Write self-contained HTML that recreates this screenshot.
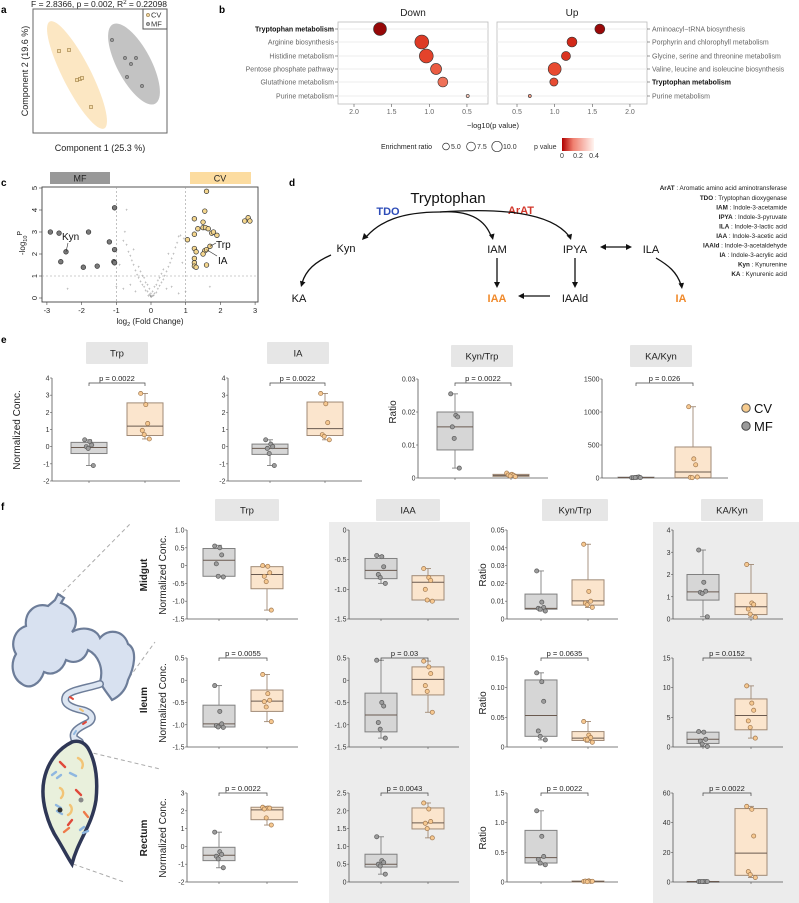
<!DOCTYPE html>
<html><head><meta charset="utf-8"><style>
html,body{margin:0;padding:0;background:#fff}
svg{display:block;font-family:"Liberation Sans",sans-serif}
</style></head><body>
<svg id="fig" width="799" height="903" viewBox="0 0 799 903" xmlns="http://www.w3.org/2000/svg">
<defs>
<linearGradient id="pgrad" x1="0" x2="1" y1="0" y2="0"><stop offset="0" stop-color="#b00000"/><stop offset="0.35" stop-color="#f08070"/><stop offset="1" stop-color="#fff4f0"/></linearGradient>
</defs>
<g font-weight="bold" font-size="10" fill="#000">
<text x="1" y="13">a</text>
<text x="219" y="13">b</text>
<text x="1" y="186">c</text>
<text x="289" y="186">d</text>
<text x="1" y="343">e</text>
<text x="1" y="510">f</text>
</g>

<g>
<text x="99" y="7" font-size="8.5" text-anchor="middle" fill="#222">F = 2.8366, p = 0.002, R<tspan font-size="6" dy="-3">2</tspan><tspan dy="3"> = 0.22098</tspan></text>
<rect x="33" y="9" width="134" height="124" fill="#fff" stroke="#666" stroke-width="1"/>
<ellipse cx="77" cy="75" rx="60" ry="14" transform="rotate(63 77 75)" fill="#fbe3b8" opacity="0.85"/>
<ellipse cx="134" cy="64" rx="45" ry="17" transform="rotate(62 134 64)" fill="#b9b9b9" opacity="0.85"/>
<g id="pcoaPts"></g>
<rect x="143" y="9" width="24" height="20" fill="#fff" stroke="#555"/>
<circle cx="148" cy="15" r="1.6" fill="#f0d49c" stroke="#8a7040" stroke-width="0.6"/>
<text x="151" y="17.5" font-size="7.5" fill="#333">CV</text>
<circle cx="148" cy="24" r="1.6" fill="#aaa" stroke="#555" stroke-width="0.6"/>
<text x="151" y="26.5" font-size="7.5" fill="#333">MF</text>
<text x="100" y="151" font-size="9" text-anchor="middle" fill="#222">Component 1 (25.3 %)</text>
<text transform="translate(28,71) rotate(-90)" font-size="9" text-anchor="middle" fill="#222">Component 2 (19.6 %)</text>
</g>

<g id="panelB">
<text x="413" y="16" font-size="10" text-anchor="middle" fill="#222">Down</text>
<text x="572" y="16" font-size="10" text-anchor="middle" fill="#222">Up</text>
<rect x="338" y="22" width="150" height="82" fill="#fff" stroke="#bbb" stroke-width="0.8"/>
<rect x="497" y="22" width="150" height="82" fill="#fff" stroke="#bbb" stroke-width="0.8"/>
<text x="493" y="128" font-size="7.5" text-anchor="middle" fill="#222">−log10(p value)</text>
<text x="381" y="149" font-size="7" fill="#222">Enrichment ratio</text>
<g font-size="7" fill="#333">
<circle cx="446" cy="146.5" r="3.4" fill="none" stroke="#333" stroke-width="0.7"/><text x="451" y="149">5.0</text>
<circle cx="471" cy="146.5" r="4.4" fill="none" stroke="#333" stroke-width="0.7"/><text x="477" y="149">7.5</text>
<circle cx="497" cy="146.5" r="5.2" fill="none" stroke="#333" stroke-width="0.7"/><text x="503" y="149">10.0</text>
<text x="534" y="149">p value</text>
<rect x="562" y="138" width="32" height="13" fill="url(#pgrad)"/>
<text x="562" y="158" text-anchor="middle">0</text><text x="578" y="158" text-anchor="middle">0.2</text><text x="594" y="158" text-anchor="middle">0.4</text>
</g>
</g>

<g id="panelC">
<rect x="50" y="172" width="60" height="12" fill="#999"/>
<text x="80" y="181.5" font-size="9" text-anchor="middle" fill="#222">MF</text>
<rect x="190" y="172" width="61" height="12" fill="#fcdca0"/>
<text x="220" y="181.5" font-size="9" text-anchor="middle" fill="#222">CV</text>
<rect x="42" y="187" width="216" height="115" fill="#fff" stroke="#444" stroke-width="0.9"/>
<text x="150" y="324" font-size="8" text-anchor="middle" fill="#222">log<tspan font-size="5.5" dy="2">2</tspan><tspan dy="-2"> (Fold Change)</tspan></text>
<text transform="translate(25,243) rotate(-90)" font-size="8" text-anchor="middle" fill="#222">-log<tspan font-size="5.5" dy="2">10</tspan><tspan font-size="7" dy="-5">P</tspan></text>
</g>

<g fill="#111">
<text x="448" y="203" font-size="15" text-anchor="middle">Tryptophan</text>
<text x="388" y="215" font-size="11" font-weight="bold" fill="#2d4cb8" text-anchor="middle">TDO</text>
<text x="521" y="214" font-size="11" font-weight="bold" fill="#d2362a" text-anchor="middle">ArAT</text>
<text x="346" y="252" font-size="11" text-anchor="middle">Kyn</text>
<text x="299" y="302" font-size="11" text-anchor="middle">KA</text>
<text x="497" y="253" font-size="11" text-anchor="middle">IAM</text>
<text x="575" y="253" font-size="11" text-anchor="middle">IPYA</text>
<text x="651" y="253" font-size="11" text-anchor="middle">ILA</text>
<text x="575" y="302" font-size="11" text-anchor="middle">IAAld</text>
<text x="497" y="302" font-size="11" font-weight="bold" fill="#f08a2c" text-anchor="middle">IAA</text>
<text x="681" y="302" font-size="11" font-weight="bold" fill="#f08a2c" text-anchor="middle">IA</text>
<g stroke="#111" stroke-width="1.3" fill="none">
<path d="M440,212 C400,212 380,222 367,236"/>
<path d="M440,212 C470,210 485,220 491,236"/>
<path d="M440,212 C500,208 550,212 569,236"/>
<path d="M497,258 L497,283"/>
<path d="M575,258 L575,283"/>
<path d="M550,296 L522,296"/>
<path d="M604,247 L628,247"/>
<path d="M656,258 C668,265 677,272 681,285"/>
<path d="M331,255 C315,262 306,270 302,283"/>
</g>
<g fill="#111">
<path d="M362,240 l2,-7 l4.5,4.5z"/><path d="M493,240 l-4,-5 l5.5,-1.5z"/><path d="M571,240 l-4.5,-4.5 l5.5,-1.8z"/>
<path d="M497,288 l-3,-6 l6,0z"/><path d="M575,288 l-3,-6 l6,0z"/><path d="M518,296 l6,-3 l0,6z"/>
<path d="M600,247 l6,-3 l0,6z"/><path d="M632,247 l-6,-3 l0,6z"/>
<path d="M682,289 l-3.5,-5.5 l5.5,-0.8z"/><path d="M301,287 l-1,-6.2 l5.5,1.5z"/>
</g>
<g font-size="6.3" text-anchor="end" fill="#222">
<text x="787" y="190"><tspan font-weight="bold">ArAT</tspan> :  Aromatic amino acid aminotransferase</text>
<text x="787" y="200"><tspan font-weight="bold">TDO</tspan> :  Tryptophan dioxygenase</text>
<text x="787" y="209.5"><tspan font-weight="bold">IAM</tspan> :  Indole-3-acetamide</text>
<text x="787" y="219"><tspan font-weight="bold">IPYA</tspan> :  Indole-3-pyruvate</text>
<text x="787" y="228.5"><tspan font-weight="bold">ILA</tspan> :  Indole-3-lactic acid</text>
<text x="787" y="238"><tspan font-weight="bold">IAA</tspan> :  Indole-3-acetic acid</text>
<text x="787" y="247.5"><tspan font-weight="bold">IAAld</tspan> :  Indole-3-acetaldehyde</text>
<text x="787" y="257"><tspan font-weight="bold">IA</tspan> :  Indole-3-acrylic acid</text>
<text x="787" y="266.5"><tspan font-weight="bold">Kyn</tspan> :  Kynurenine</text>
<text x="787" y="276"><tspan font-weight="bold">KA</tspan> :  Kynurenic acid</text>
</g>
</g>

<rect x="329" y="522" width="141" height="381" fill="#ececec"/>
<rect x="653" y="522" width="146" height="381" fill="#ececec"/>

<g>
<g stroke="#aaa" stroke-width="1" stroke-dasharray="4,3" fill="none">
<path d="M58,597 L130,524"/><path d="M113,700 L155,642"/><path d="M80,750 L160,769"/><path d="M73,864 L124,882"/>
</g>
<path d="M55,600 l3,-6 l6,4 l-3,5 C75,608 80,622 72,632 C82,626 96,628 100,638 C108,628 124,630 128,644 C138,650 134,668 128,680 C126,690 120,696 112,700 C108,694 104,690 100,682 C104,668 98,655 88,650 C84,662 74,664 66,660 C62,672 52,676 44,672 C40,684 30,690 22,684 C12,678 10,664 16,654 C10,644 14,630 26,626 C24,612 36,602 48,606 z" fill="#d8e1f0" stroke="#6d7d99" stroke-width="2.2"/>
<path d="M100,684 C88,688 70,690 66,696 C62,704 72,708 82,710 C92,712 96,720 86,724 C78,728 72,732 74,738 L80,742" fill="none" stroke="#6d7d99" stroke-width="8" stroke-linecap="round"/>
<path d="M100,684 C88,688 70,690 66,696 C62,704 72,708 82,710 C92,712 96,720 86,724 C78,728 72,732 74,738 L80,742" fill="none" stroke="#dde6f2" stroke-width="5" stroke-linecap="round"/>
<path d="M72,742 C60,748 48,760 44,780 C40,800 48,825 58,840 C64,850 68,858 72,864 C78,840 92,826 96,800 C98,780 96,762 88,748 C84,742 78,740 72,742 z" fill="#e9f0dc" stroke="#2f3756" stroke-width="3.5"/>
<g stroke-width="2.4" stroke-linecap="round" fill="none">
<path d="M60,762 l5,5" stroke="#e0493a"/><path d="M78,758 c4,2 6,6 4,10" stroke="#f2c476"/><path d="M52,775 l4,-3 m1,6 l4,-3" stroke="#8fb7e0"/><path d="M70,773 l6,3" stroke="#8fb7e0"/><path d="M60,788 c4,2 4,7 1,10" stroke="#f2c476"/><path d="M76,790 l5,5" stroke="#e0493a"/><path d="M56,805 l5,3 m-4,3 l5,3" stroke="#8fb7e0"/><path d="M70,805 c3,3 2,8 -2,10" stroke="#f2c476"/><path d="M84,812 l4,5" stroke="#ee7a4a"/><path d="M72,820 l-4,5" stroke="#e0493a"/><path d="M64,832 l5,-4" stroke="#ee7a4a"/><path d="M80,830 l4,-3 m-1,6 l5,-2" stroke="#8fb7e0"/>
</g>
<circle cx="60" cy="810" r="2.5" fill="#333"/><circle cx="81" cy="800" r="2.5" fill="#888"/>
<g stroke-width="2" stroke-linecap="round"><path d="M70,697 l3,2" stroke="#e0493a"/><path d="M80,709 l3,2" stroke="#f2c476"/><path d="M86,722 l-3,2" stroke="#e0493a"/><path d="M76,731 l-2,3" stroke="#8fb7e0"/></g>
</g>

<g>
<circle cx="746" cy="408" r="4.2" fill="#f6cb8e" stroke="#555" stroke-width="1"/>
<text x="754" y="413" font-size="13" fill="#111">CV</text>
<circle cx="746" cy="426" r="4.2" fill="#9a9a9a" stroke="#444" stroke-width="1"/>
<text x="754" y="431" font-size="13" fill="#111">MF</text>
</g>
<text transform="translate(20,430) rotate(-90)" font-size="10" text-anchor="middle" fill="#222">Normalized Conc.</text>
<text transform="translate(396,412) rotate(-90)" font-size="10" text-anchor="middle" fill="#222">Ratio</text>
<g font-size="10" text-anchor="middle" fill="#222">
<text transform="translate(147,575) rotate(-90)" font-weight="bold">Midgut</text>
<text transform="translate(147,700) rotate(-90)" font-weight="bold">Ileum</text>
<text transform="translate(147,838) rotate(-90)" font-weight="bold">Rectum</text>
<text transform="translate(166,575) rotate(-90)">Normalized Conc.</text>
<text transform="translate(166,703) rotate(-90)">Normalized Conc.</text>
<text transform="translate(166,838) rotate(-90)">Normalized Conc.</text>
<text transform="translate(486,575) rotate(-90)">Ratio</text>
<text transform="translate(486,703) rotate(-90)">Ratio</text>
<text transform="translate(486,838) rotate(-90)">Ratio</text>
</g>
<g id="boxes"></g>
</svg>
<script>
// ---------- panel a data ----------
const pcoaCV_x = [59,69,77,80,82,91];
const pcoaCV_y = [51,50,80,79,78,107];
const pcoaMF_x = [112,125,136,131,127,142];
const pcoaMF_y = [40,58,58,64,77,86];

// ---------- panel b data ----------
const pathwaysDown = ["Tryptophan metabolism","Arginine biosynthesis","Histidine metabolism","Pentose phosphate pathway","Glutathione metabolism","Purine metabolism"];
const logPDown = [1.655,1.10,1.04,0.91,0.82,0.49];
const ratioDown = [10.5,12,12,7.6,6.2,0.6];
const pathwaysUp = ["Aminoacyl−tRNA biosynthesis","Porphyrin and chlorophyll metabolism","Glycine, serine and threonine metabolism","Valine, leucine and isoleucine biosynthesis","Tryptophan metabolism","Purine metabolism"];
const logPUp = [1.60,1.23,1.15,1.00,0.99,0.67];
const ratioUp = [6.2,6.2,5.2,10.5,4.2,0.6];
const enrichTicks = [0.5,1.0,1.5,2.0];

// ---------- panel c data ----------
const volMFx = [-2.9,-2.65,-2.45,-2.6,-1.95,-1.8,-1.55,-1.2,-1.05,-1.05,-1.07,-1.05];
const volMFy = [3.0,2.95,2.1,1.65,1.4,3.0,1.45,2.55,4.1,2.2,1.65,1.6];
const volCVx = [1.6,1.55,1.25,1.5,1.35,1.5,1.57,1.65,1.75,1.8,1.9,1.05,1.25,1.25,1.3,1.55,1.6,1.5,1.7,1.25,1.25,1.25,1.3,1.6,2.7,2.8,2.85];
const volCVy = [4.85,3.95,3.6,3.45,3.15,3.2,3.2,3.15,2.95,3.0,2.85,2.65,2.9,2.25,2.1,2.15,2.2,2.0,2.35,1.8,1.6,1.45,1.4,1.5,3.5,3.65,3.5];
const volNSx = [0,0.05,-0.05,0.1,-0.1,0.15,-0.15,0.2,-0.2,0.25,-0.25,0.3,-0.3,0.35,-0.35,0.4,-0.4,0.45,-0.45,0.5,-0.5,0.55,-0.55,0.6,-0.6,0.65,-0.65,0.7,0.75,0.8,0.85,-0.7,-0.75,-0.8,-0.7,0.95,0.1,-0.1,0.2,-0.2,0.3,-0.3,0.05,-0.05,0,0.15,-0.15,0.25,-0.25,0.35,-0.35,0.45,-0.45,0.6,-0.6,0.8,-0.8,1.0,-1.0,-0.9,0.9,-0.5,0.5,-2.4,1.7,0,0.02,-0.02,0.08,-0.08];
const volNSy = [0.05,0.1,0.15,0.2,0.3,0.25,0.35,0.4,0.5,0.55,0.6,0.7,0.75,0.85,0.9,1.0,1.05,1.2,1.25,1.4,1.5,1.6,1.7,1.8,1.9,2.0,2.1,2.3,2.5,2.8,2.85,2.4,3.0,2.6,4.0,2.7,0.5,0.6,0.8,0.9,1.1,1.2,0.3,0.4,0.2,0.6,0.7,0.9,1.0,1.3,1.4,0.4,0.3,0.5,0.6,0.2,0.4,0.3,0.5,1.5,1.6,2.2,2.0,0.4,0.5,0.1,0.05,0.08,0.12,0.1];
const volTicksX = [-3,-2,-1,0,1,2,3];
const volTicksY = [0,1,2,3,4,5];

// ---------- panels e/f box data: stats = [min, q1, median, q3, max] ----------
const eTrpMFstats=[-1.1,-0.4,-0.05,0.25,0.4], eTrpMFpts=[0.4,0.3,0.1,0.0,-0.1,-1.1];
const eTrpCVstats=[0.45,0.65,1.2,2.55,3.1], eTrpCVpts=[3.1,2.45,1.35,0.95,0.7,0.45];
const eIAMFstats=[-1.1,-0.45,-0.1,0.15,0.4], eIAMFpts=[0.4,0.15,0.0,-0.1,-0.4,-1.1];
const eIACVstats=[0.4,0.65,1.05,2.6,3.1], eIACVpts=[3.1,2.5,1.4,0.7,0.6,0.4];
const eKTMFstats=[0.003,0.0085,0.0155,0.020,0.0255], eKTMFpts=[0.0255,0.019,0.0185,0.0155,0.012,0.003];
const eKTCVstats=[0.0003,0.0005,0.0008,0.0011,0.0015], eKTCVpts=[0.0015,0.0011,0.0008,0.0009,0.0006,0.0004];
const eKKMFstats=[2,3,8,12,20], eKKMFpts=[5,10,15,5,8,6];
const eKKCVstats=[5,5,90,470,1080], eKKCVpts=[1080,290,200,10,5,15];

const mTrpMFstats=[-0.32,-0.3,0.15,0.48,0.57], mTrpMFpts=[0.55,0.5,0.3,0.05,-0.3,-0.32];
const mTrpCVstats=[-1.25,-0.65,-0.25,-0.03,0.0], mTrpCVpts=[0.0,-0.02,-0.2,-0.3,-0.45,-1.25];
const mIAAMFstats=[-0.9,-0.82,-0.68,-0.48,-0.43], mIAAMFpts=[-0.43,-0.45,-0.62,-0.75,-0.8,-0.9];
const mIAACVstats=[-1.2,-1.18,-0.88,-0.77,-0.65], mIAACVpts=[-0.65,-0.8,-0.85,-1.0,-1.18,-1.2];
const mKTMFstats=[0.0045,0.0055,0.006,0.014,0.027], mKTMFpts=[0.027,0.0095,0.0065,0.006,0.0055,0.0045];
const mKTCVstats=[0.0065,0.0078,0.0102,0.022,0.042], mKTCVpts=[0.042,0.0155,0.010,0.009,0.008,0.0065];
const mKKMFstats=[0.1,0.85,1.22,2.0,3.1], mKKMFpts=[3.1,1.65,1.25,1.2,1.15,0.1];
const mKKCVstats=[0.08,0.2,0.55,1.15,2.45], mKKCVpts=[2.45,0.72,0.65,0.45,0.22,0.08];

const iTrpMFstats=[-1.06,-1.05,-0.98,-0.56,-0.12], iTrpMFpts=[-0.12,-0.7,-0.98,-1.02,-1.05,-1.06];
const iTrpCVstats=[-0.93,-0.7,-0.47,-0.22,0.13], iTrpCVpts=[0.13,-0.3,-0.45,-0.48,-0.6,-0.93];
const iIAAMFstats=[-1.3,-1.16,-0.78,-0.29,0.45], iIAAMFpts=[0.45,-0.5,-0.58,-0.95,-1.1,-1.3];
const iIAACVstats=[-0.72,-0.33,0.02,0.3,0.43], iIAACVpts=[0.43,0.3,0.15,-0.12,-0.25,-0.72];
const iKTMFstats=[0.012,0.018,0.053,0.113,0.125], iKTMFpts=[0.125,0.11,0.077,0.027,0.018,0.012];
const iKTCVstats=[0.008,0.011,0.015,0.026,0.043], iKTCVpts=[0.043,0.02,0.016,0.013,0.012,0.008];
const iKKMFstats=[0.1,0.6,1.3,2.5,2.6], iKKMFpts=[2.6,2.5,1.3,1.0,0.5,0.1];
const iKKCVstats=[1.5,2.9,5.3,8.1,10.3], iKKCVpts=[10.3,7.4,6.2,4.4,3.3,1.5];

const rTrpMFstats=[-1.2,-0.8,-0.5,-0.05,0.8], rTrpMFpts=[0.8,-0.3,-0.45,-0.55,-0.7,-1.2];
const rTrpCVstats=[1.2,1.5,2.05,2.2,2.25], rTrpCVpts=[2.2,2.15,2.15,2.1,1.6,1.2];
const rIAAMFstats=[0.22,0.42,0.5,0.78,1.27], rIAAMFpts=[1.27,0.6,0.55,0.5,0.45,0.22];
const rIAACVstats=[1.24,1.49,1.66,2.08,2.22], rIAACVpts=[2.22,2.05,1.7,1.65,1.5,1.24];
const rKTMFstats=[0.29,0.32,0.41,0.87,1.2], rKTMFpts=[1.2,0.77,0.43,0.38,0.32,0.29];
const rKTCVstats=[0.003,0.005,0.01,0.015,0.02], rKTCVpts=[0.01,0.02,0.01,0.015,0.005,0.012];
const rKKMFstats=[0.2,0.25,0.3,0.35,0.4], rKKMFpts=[0.3,0.3,0.3,0.3,0.3,0.3];
const rKKCVstats=[3,4.5,19.5,49.5,51], rKKCVpts=[51,49,31,7,5,3];

const pE = ["p = 0.0022","p = 0.0022","p = 0.0022","p = 0.026"];
const pIleum = ["p = 0.0055","p = 0.03","p = 0.0635","p = 0.0152"];
const pRectum = ["p = 0.0022","p = 0.0043","p = 0.0022","p = 0.0022"];
const tickE1 = [-2,-1,0,1,2,3,4];
const tickEKT = [0,0.01,0.02,0.03];
const tickEKK = [0,500,1000,1500];
const tickMTrp = [-1.5,-1.0,-0.5,0,0.5,1.0];
const tickMIAA = [-1.5,-1.0,-0.5,0];
const tickMKT = [0,0.01,0.02,0.03,0.04,0.05];
const tickMKK = [0,1,2,3,4];
const tickI = [-1.5,-1.0,-0.5,0,0.5];
const tickIKT = [0,0.05,0.10,0.15];
const tickIKK = [0,5,10,15];
const tickRTrp = [-2,-1,0,1,2,3];
const tickRIAA = [0,0.5,1.0,1.5,2.0,2.5];
const tickRKT = [0,0.5,1.0,1.5];
const tickRKK = [0,20,40,60];

const NS="http://www.w3.org/2000/svg";
function mk(parent, tag, attrs){const e=document.createElementNS(NS,tag);for(const k in attrs)e.setAttribute(k,attrs[k]);parent.appendChild(e);return e;}

const pa=document.getElementById('pcoaPts');
pcoaCV_x.forEach((x,i)=>{const c=mk(pa,'rect',{x:x-1.5,y:pcoaCV_y[i]-1.5,width:3,height:3,fill:'#f6dca8',stroke:'#9a7a40','stroke-width':0.6});

});
pcoaMF_x.forEach((x,i)=>{const c=mk(pa,'circle',{cx:x,cy:pcoaMF_y[i],r:1.6,fill:'#999',stroke:'#555','stroke-width':0.6});

});

const pb=document.getElementById('panelB');
const rowY=[29,42,56,69,82,96];
function pColor(p){const stops=[[0,[122,0,0]],[0.03,[160,10,10]],[0.06,[212,42,26]],[0.1,[232,74,48]],[0.2,[245,150,125]],[0.4,[253,232,224]]];
p=Math.min(p,0.4);for(let i=1;i<stops.length;i++){if(p<=stops[i][0]){const a=stops[i-1],b=stops[i],t=(p-a[0])/(b[0]-a[0]);return 'rgb('+a[1].map((v,j)=>Math.round(v+(b[1][j]-v)*t)).join(',')+')';}}return 'rgb(253,232,224)';}
const xDown=v=>354+(2.0-v)*75.3, xUp=v=>517+(v-0.5)*75.3;
rowY.forEach(y=>{mk(pb,'line',{x1:338,x2:488,y1:y,y2:y,stroke:'#eee','stroke-width':1});mk(pb,'line',{x1:497,x2:647,y1:y,y2:y,stroke:'#eee','stroke-width':1});
mk(pb,'line',{x1:335,x2:338,y1:y,y2:y,stroke:'#555','stroke-width':0.6});mk(pb,'line',{x1:647,x2:650,y1:y,y2:y,stroke:'#555','stroke-width':0.6});});
pathwaysDown.forEach((n,i)=>{const t=mk(pb,'text',{x:334,y:rowY[i]+2.5,'font-size':7,'text-anchor':'end',fill:n==='Tryptophan metabolism'?'#111':'#666','font-weight':n==='Tryptophan metabolism'?'bold':'normal'});t.textContent=n;


const c=mk(pb,'circle',{cx:xDown(logPDown[i]),cy:rowY[i],r:2*Math.sqrt(ratioDown[i]),fill:pColor(Math.pow(10,-logPDown[i])),stroke:'#333','stroke-width':0.6});

});
pathwaysUp.forEach((n,i)=>{const t=mk(pb,'text',{x:652,y:rowY[i]+2.5,'font-size':7,fill:n==='Tryptophan metabolism'?'#111':'#666','font-weight':n==='Tryptophan metabolism'?'bold':'normal'});t.textContent=n;


const c=mk(pb,'circle',{cx:xUp(logPUp[i]),cy:rowY[i],r:2*Math.sqrt(ratioUp[i]),fill:pColor(Math.pow(10,-logPUp[i])),stroke:'#333','stroke-width':0.6});

});
enrichTicks.forEach(v=>{[xDown(v),xUp(v)].forEach(x=>{mk(pb,'line',{x1:x,x2:x,y1:104,y2:107,stroke:'#555','stroke-width':0.6});const t=mk(pb,'text',{x:x,y:114,'font-size':7,'text-anchor':'middle',fill:'#666'});t.textContent=v.toFixed(1);});});

const pc=document.getElementById('panelC');
const vx=v=>151+v*34.7, vy=v=>298-v*22;
[-1,1].forEach(v=>mk(pc,'line',{x1:vx(v),x2:vx(v),y1:187,y2:302,stroke:'#999','stroke-width':0.6,'stroke-dasharray':'2,2'}));
mk(pc,'line',{x1:42,x2:258,y1:vy(1),y2:vy(1),stroke:'#999','stroke-width':0.6,'stroke-dasharray':'2,2'});
volTicksX.forEach(v=>{mk(pc,'line',{x1:vx(v),x2:vx(v),y1:302,y2:305,stroke:'#444','stroke-width':0.6});const t=mk(pc,'text',{x:vx(v),y:313,'font-size':7.5,'text-anchor':'middle',fill:'#222'});t.textContent=v;});
volTicksY.forEach(v=>{mk(pc,'line',{x1:39,x2:42,y1:vy(v),y2:vy(v),stroke:'#444','stroke-width':0.6});const t=mk(pc,'text',{'font-size':7.5,'text-anchor':'middle',fill:'#222',transform:'translate(37,'+vy(v)+') rotate(-90)'});t.textContent=v;});
volNSx.forEach((x,i)=>{const c=mk(pc,'text',{x:vx(x),y:vy(volNSy[i])+1.5,'font-size':4.5,'text-anchor':'middle',fill:'#888'});c.textContent='+';

});
volMFx.forEach((x,i)=>{const c=mk(pc,'circle',{cx:vx(x),cy:vy(volMFy[i]),r:2.3,fill:'#7a7a7a',stroke:'#333','stroke-width':0.7});

});
volCVx.forEach((x,i)=>{const c=mk(pc,'circle',{cx:vx(x),cy:vy(volCVy[i]),r:2.3,fill:'#f4d68e',stroke:'#333','stroke-width':0.7});

});
mk(pc,'line',{x1:vx(-2.45),y1:vy(2.1),x2:68,y2:243,stroke:'#333','stroke-width':0.6});
mk(pc,'line',{x1:vx(1.7),y1:vy(2.35),x2:216,y2:243,stroke:'#333','stroke-width':0.6});
mk(pc,'line',{x1:vx(1.6),y1:vy(2.2),x2:217,y2:256,stroke:'#333','stroke-width':0.6});
[['Kyn',62,240],['Trp',216,248],['IA',218,264]].forEach(([s,x,y])=>{const t=mk(pc,'text',{x:x,y:y,'font-size':10,fill:'#111'});t.textContent=s;

});

const gb=document.getElementById('boxes');
function fmt(v,ticks){const dec=Math.max(...ticks.map(t=>{const s=String(t);return s.includes('.')?s.split('.')[1].length:0;}));
if(v===0)return '0';return v.toFixed(dec);}
function boxplot(o){
 const g=mk(gb,'g',{});
 
 
 const lo=o.ticks[0],hi=o.ticks[o.ticks.length-1];
 const Y=v=>o.yB-(v-lo)/(hi-lo)*(o.yB-o.yT);
 mk(g,'line',{x1:o.ax,x2:o.ax,y1:o.yT,y2:o.yB,stroke:'#555','stroke-width':0.8});
 mk(g,'line',{x1:o.ax,x2:o.xe,y1:o.yB,y2:o.yB,stroke:'#555','stroke-width':0.8});
 o.ticks.forEach(v=>{mk(g,'line',{x1:o.ax-2,x2:o.ax,y1:Y(v),y2:Y(v),stroke:'#555','stroke-width':0.6});
  const t=mk(g,'text',{x:o.ax-2.5,y:Y(v)+2.5,'font-size':7,'text-anchor':'end',fill:'#333'});t.textContent=o.fmtFixed?fmt(v,o.ticks):(v===0?'0':String(v));});
 [o.mx,o.cx].forEach(x=>mk(g,'line',{x1:x,x2:x,y1:o.yB,y2:o.yB+2,stroke:'#555','stroke-width':0.6}));
 const grp=[[o.mx,o.ms,o.mp,'#d6d6d6','#808080','#9c9c9c','#5a5a5a','mf'],[o.cx,o.cs,o.cp,'#fbe5cd','#a08a76','#f6c890','#a07850','cv']];
 grp.forEach(([x,s,pts,bf,bs,pf,ps,lab])=>{
  const w=o.bw/2;
  mk(g,'line',{x1:x,x2:x,y1:Y(s[0]),y2:Y(s[1]),stroke:bs,'stroke-width':0.9});
  mk(g,'line',{x1:x,x2:x,y1:Y(s[3]),y2:Y(s[4]),stroke:bs,'stroke-width':0.9});
  mk(g,'line',{x1:x-3,x2:x+3,y1:Y(s[0]),y2:Y(s[0]),stroke:bs,'stroke-width':0.9});
  mk(g,'line',{x1:x-3,x2:x+3,y1:Y(s[4]),y2:Y(s[4]),stroke:bs,'stroke-width':0.9});
  const r=mk(g,'rect',{x:x-w,y:Y(s[3]),width:o.bw,height:Math.max(0.8,Y(s[1])-Y(s[3])),fill:bf,stroke:bs,'stroke-width':1});
  
  
  mk(g,'line',{x1:x-w,x2:x+w,y1:Y(s[2]),y2:Y(s[2]),stroke:'#6a5a50','stroke-width':1});
  pts.forEach((v,i)=>{const off=((i%3)-1)*3.5+(i%2?1:-1)*0.8;
   const c=mk(g,'circle',{cx:x+off,cy:Y(v),r:2.1,fill:pf,stroke:ps,'stroke-width':0.7});
   
   });
 });
 if(o.p){const by=o.by;
  mk(g,'path',{d:'M'+o.mx+','+(by+3)+' L'+o.mx+','+by+' L'+o.cx+','+by+' L'+o.cx+','+(by+3),fill:'none',stroke:'#444','stroke-width':0.7});
  const t=mk(g,'text',{x:(o.mx+o.cx)/2,y:by-2,'font-size':7.5,'text-anchor':'middle',fill:'#222'});t.textContent=o.p;}
 if(o.title){const h=o.title;
  const r=mk(g,'rect',{x:h[1],y:h[2],width:h[3],height:h[4],fill:'#e6e6e6',rx:1});
  
  
  const t=mk(g,'text',{x:h[1]+h[3]/2,y:h[2]+h[4]/2+3.5,'font-size':9.5,'text-anchor':'middle',fill:'#222'});t.textContent=h[0];}
}
boxplot({name:'e-trp-boxplot',ax:52,xe:180,yT:378,yB:481,ticks:tickE1,mx:89,cx:145,bw:36,ms:eTrpMFstats,mp:eTrpMFpts,cs:eTrpCVstats,cp:eTrpCVpts,p:pE[0],by:383,title:['Trp',86,342,62,22]});
boxplot({name:'e-ia-boxplot',ax:228,xe:362,yT:378,yB:481,ticks:tickE1,mx:270,cx:325,bw:36,ms:eIAMFstats,mp:eIAMFpts,cs:eIACVstats,cp:eIACVpts,p:pE[1],by:383,title:['IA',267,342,62,22]});
boxplot({name:'e-kyn-trp-boxplot',ax:418,xe:548,yT:379,yB:478,ticks:tickEKT,fmtFixed:true,mx:455,cx:511,bw:36,ms:eKTMFstats,mp:eKTMFpts,cs:eKTCVstats,cp:eKTCVpts,p:pE[2],by:383,title:['Kyn/Trp',451,345,62,22]});
boxplot({name:'e-ka-kyn-boxplot',ax:602,xe:728,yT:379,yB:478,ticks:tickEKK,mx:636,cx:693,bw:36,ms:eKKMFstats,mp:eKKMFpts,cs:eKKCVstats,cp:eKKCVpts,p:pE[3],by:383,title:['KA/Kyn',630,345,62,22]});
const fcol=[{ax:187,xe:298,mx:219,cx:267},{ax:349,xe:459,mx:381,cx:428},{ax:507,xe:618,mx:541,cx:588},{ax:673,xe:783,mx:703,cx:751}];
const heads=[['Trp',215,499,64,22],['IAA',376,499,64,22],['Kyn/Trp',542,499,66,22],['KA/Kyn',701,499,62,22]];
const rows=[
 {yT:530,yB:619,ps:[null,null,null,null],t:[tickMTrp,tickMIAA,tickMKT,tickMKK],d:[[mTrpMFstats,mTrpMFpts,mTrpCVstats,mTrpCVpts],[mIAAMFstats,mIAAMFpts,mIAACVstats,mIAACVpts],[mKTMFstats,mKTMFpts,mKTCVstats,mKTCVpts],[mKKMFstats,mKKMFpts,mKKCVstats,mKKCVpts]],n:'midgut'},
 {yT:658,yB:747,ps:pIleum,t:[tickI,tickI,tickIKT,tickIKK],d:[[iTrpMFstats,iTrpMFpts,iTrpCVstats,iTrpCVpts],[iIAAMFstats,iIAAMFpts,iIAACVstats,iIAACVpts],[iKTMFstats,iKTMFpts,iKTCVstats,iKTCVpts],[iKKMFstats,iKKMFpts,iKKCVstats,iKKCVpts]],n:'ileum'},
 {yT:793,yB:882,ps:pRectum,t:[tickRTrp,tickRIAA,tickRKT,tickRKK],d:[[rTrpMFstats,rTrpMFpts,rTrpCVstats,rTrpCVpts],[rIAAMFstats,rIAAMFpts,rIAACVstats,rIAACVpts],[rKTMFstats,rKTMFpts,rKTCVstats,rKTCVpts],[rKKMFstats,rKKMFpts,rKKCVstats,rKKCVpts]],n:'rectum'}];
const colN=['trp','iaa','kyn-trp','ka-kyn'];
rows.forEach((r,ri)=>fcol.forEach((c,ci)=>{
 boxplot({name:r.n+'-'+colN[ci]+'-boxplot',ax:c.ax,xe:c.xe,yT:r.yT,yB:r.yB,ticks:r.t[ci],fmtFixed:true,mx:c.mx,cx:c.cx,bw:32,ms:r.d[ci][0],mp:r.d[ci][1],cs:r.d[ci][2],cp:r.d[ci][3],p:r.ps[ci],by:r.yT,title:ri===0?heads[ci]:null});
}));
</script>
</body></html>
